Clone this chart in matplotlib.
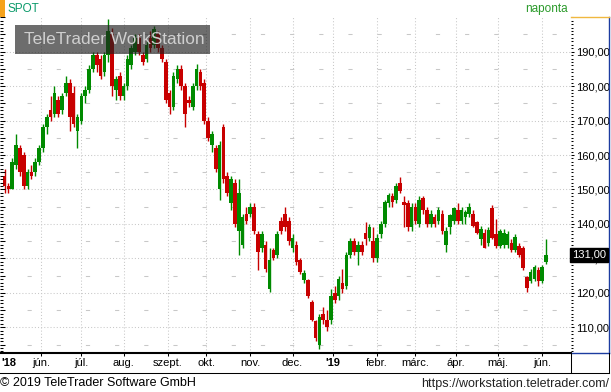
import numpy as np
import pandas as pd
import matplotlib
matplotlib.use("Agg")
import matplotlib.pyplot as plt
from matplotlib.patches import Rectangle
from matplotlib.lines import Line2D
from matplotlib.ticker import FixedLocator, MultipleLocator, FuncFormatter
import matplotlib.transforms as mtransforms

plt.rcParams['font.family'] = ['Liberation Sans', 'DejaVu Sans']

# kereskedesi napok - minden masodik napra egy gyertya
days = pd.bdate_range("2018-05-07", "2019-06-05")

# OHLC, honaponkent
opens = [154, 151, 150, 157, 162, 160, 151, 155, 155,                      # maj
         158, 162, 168, 173, 172, 176, 173, 178, 181, 178, 167,            # jun
         170, 177, 179, 185, 189, 188, 184, 189, 195, 179, 183,            # jul
         177, 180, 186, 190, 194, 189, 188, 194, 192, 195, 191,            # aug
         187, 178, 174, 182, 185, 180, 176, 174, 180, 184,                 # szept
         181, 170, 163, 162, 150, 168, 154, 146, 152, 138, 134, 143,       # okt
         143, 145, 137, 133, 134, 121, 132.5, 131, 141, 143, 141,          # nov
         133, 134, 129.6, 123.8, 123.8, 117.4, 111.7, 105, 114, 112,       # dec
         112, 120, 119, 123, 122, 131, 135, 132, 134, 137.5, 136,          # jan
         135, 130, 137, 140, 146, 148, 147, 152, 146.5, 146,               # febr
         139, 145, 140, 147.5, 144, 140, 142, 141, 143, 134, 139,          # marc
         141, 144, 141, 142, 143, 143, 140.5, 135.5, 137.5, 134.5, 144.7,  # apr
         137, 133.5, 134, 134, 134.5, 132.5, 133.5, 133, 124.7, 123.3,     # maj
         124, 126.7, 123.3, 129]
highs = [156, 152, 159, 166, 163, 161, 156, 157, 159,
         163, 169, 172, 177, 180, 177, 178, 183, 182, 180, 172,
         178, 180, 186, 190, 190, 189, 190, 199.5, 197, 183, 184,
         181, 189, 192, 195, 195, 190, 193, 196, 197.5, 196, 192,
         188, 179, 184, 186, 186, 181, 177, 181, 186.5, 185,
         182, 171, 167, 163, 164, 169, 155, 154, 153, 153, 143, 145,
         146, 146, 138, 138, 135, 133, 133, 138, 142, 145, 142,
         137, 135, 130, 126.5, 124, 118, 112, 114, 116, 115,
         121, 122, 125, 127, 132, 136, 136, 135, 135, 140.6, 140,
         139, 137, 141, 147, 149, 149, 152, 153.7, 148, 147,
         146, 146, 148, 148, 145, 144, 143, 145, 144, 139, 143,
         145, 146, 145, 144, 146, 144, 141, 139.5, 138.5, 139, 145.6,
         141.5, 138.5, 138.5, 138, 135.5, 137, 134.5, 133.5, 125, 127,
         128, 127.5, 128, 135.5]
lows = [149, 149, 150, 156, 154, 150, 150, 153, 154,
        157, 161, 166, 170, 171, 171, 172, 177, 167, 168, 162,
        169, 175, 178, 184, 184, 182, 183, 187, 177, 176, 176,
        176, 179, 185, 189, 189, 186, 187, 190, 191, 190, 187,
        175, 172, 173, 181, 179, 168, 174, 173, 179, 179,
        169, 164, 161, 155, 147, 152, 148, 144, 139, 131, 133, 140,
        142, 137, 126.7, 132, 126, 120.3, 129.5, 130, 137, 138, 134,
        132, 128, 125.5, 123, 118.6, 111.7, 106, 103.6, 111, 109,
        111, 117, 118, 120, 121, 130, 131, 128, 131, 134, 135,
        129, 129, 136, 139, 145, 145, 146, 149, 139, 138,
        138, 140, 139, 143, 139, 139, 139, 140, 137, 132, 137,
        140, 140, 140, 140, 142, 139, 137, 134, 133, 133.5, 135.5,
        133, 133, 133, 133, 132, 132, 130.5, 126.5, 120.3, 123,
        123.5, 122, 123, 128.5]
closes = [151, 150, 158, 163, 155, 151, 155, 154, 158,
          162, 168, 171, 171, 178, 172, 177, 181, 171, 169, 171,
          177, 179, 185, 189, 186, 183, 189, 196, 180, 182, 177,
          180, 188, 191, 194, 190, 187, 192, 191, 196.5, 191, 188,
          176, 174, 183, 185, 180, 172, 175, 180, 185, 180,
          170, 165, 166, 156, 163, 153, 149, 153, 140, 149, 142, 141,
          145, 138, 132, 137, 127, 129.6, 130, 137, 138, 139, 135,
          136, 129, 126, 125.8, 119, 112, 107, 113, 112, 110,
          119, 118, 124, 121, 131, 135, 132, 134, 132, 135.5, 139,
          130, 136, 140, 146.5, 148.5, 146.5, 151, 149.5, 145.5, 139,
          145, 141, 147, 144, 140, 143, 140, 144, 138, 138, 142.5,
          144.5, 141, 144, 143.5, 145, 139.5, 137.5, 138.5, 133, 138.3, 136,
          133.5, 138, 137.5, 137, 132.5, 136.3, 131, 127.3, 121.5, 126,
          127.6, 123.3, 127.6, 131]

month_labels = ["jún.", "júl.", "aug.", "szept.", "okt.", "nov.", "dec.",
                "'19", "febr.", "márc.", "ápr.", "máj.", "jún."]

GREEN = "#008a00"
RED = "#c80000"
GRID = "#c8c8c8"

W, H = 611, 392


def fx(px):
    return px / W


def fy(py):
    return 1 - py / H


o = np.array(opens, float)
h = np.array(highs, float)
l = np.array(lows, float)
c = np.array(closes, float)
x = np.arange(0, len(days), 2)[:len(o)]

fig = plt.figure(figsize=(W / 100, H / 100), dpi=100)
fig.patch.set_facecolor("white")
ax = fig.add_axes([0, fy(353), fx(571), (353 - 17) / H])
ax.set_xlim(-2.35, 295)
ax.set_ylim(102.54, 200.07)

col = np.where(c >= o, GREEN, RED)
ax.vlines(x, l, h, colors=col, lw=1.0, zorder=3)
ax.bar(x, np.maximum(np.abs(c - o), 0.4), bottom=np.minimum(o, c), width=1.9,
       color=col, lw=0, zorder=3)

ax.yaxis.set_major_locator(FixedLocator(np.arange(110, 200, 10)))
ax.yaxis.set_minor_locator(MultipleLocator(1))
ax.yaxis.set_major_formatter(FuncFormatter(lambda v, p: f"{v:.2f}".replace(".", ",")))

for s in ["top", "left", "right"]:
    ax.spines[s].set_visible(False)
ax.spines["bottom"].set_linewidth(1.5)

# bal oldali osztas (ikertengely, az x tengelyt nem bantjuk)
axl = ax.twinx()
axl.set_ylim(ax.get_ylim())
axl.yaxis.tick_left()
axl.yaxis.set_major_locator(MultipleLocator(5))
axl.yaxis.set_minor_locator(MultipleLocator(1))
axl.tick_params(axis="y", which="major", direction="in", length=3.5, width=0.75, labelleft=False)
axl.tick_params(axis="y", which="minor", direction="in", length=2, width=0.75)
for s in axl.spines.values():
    s.set_visible(False)
axl.patch.set_visible(False)

# honapkezdetek
per = days.to_period("M")
month_idx = np.flatnonzero(per[1:] != per[:-1]) + 1
ax.xaxis.set_major_locator(FixedLocator(month_idx))
ax.set_xticklabels(month_labels)
for lbl in ax.get_xticklabels():
    if lbl.get_text().startswith("'"):
        lbl.set_fontweight("bold")
ax.tick_params(axis="x", direction="out", length=2.2, width=0.75, pad=1.5,
               labelsize=8, colors="black", bottom=True, labelbottom=True)

ax.grid(True, which="major", color=GRID, linestyle=(0, (1, 2)), lw=0.75, zorder=1)
for v in np.arange(105, 200, 10):
    ax.axhline(v, color=GRID, lw=0.75, linestyle=(2, (4, 24)), zorder=1)

ax.yaxis.tick_right()
ax.tick_params(axis="y", which="major", direction="out", length=2.5, width=0.75,
               pad=1.5, labelsize=8, labelright=True, labelleft=False)
ax.tick_params(axis="y", which="minor", direction="out", length=1.5, width=0.75)

# jobb oldali panel
pan = fig.add_axes([fx(571), fy(353), fx(38), (353 - 17) / H])
pan.set_facecolor("none")
pan.set_ylim(ax.get_ylim())
pan.set_xticks([])
pan.set_yticks([])
pan.spines["left"].set_visible(False)
pan.spines["top"].set_color("#f0b840")
pan.spines["right"].set_color("#1c3ca0")
pan.spines["bottom"].set_color("#1c3ca0")
for s in pan.spines.values():
    s.set_linewidth(1)
trans = mtransforms.blended_transform_factory(pan.transAxes, pan.transData)
pan.text(0.03, c[-1], f"{c[-1]:.2f}".replace(".", ","), transform=trans, ha="left",
         va="center", color="white", fontsize=8,
         bbox=dict(boxstyle="square,pad=0.2", fc="black", ec="black"), zorder=10)

# also savok
fig.add_artist(Line2D([0, fx(609)], [fy(373), fy(373)], color="black", lw=0.75))
fig.add_artist(Line2D([fx(570.5), fx(570.5)], [fy(353), fy(373)], color="black", lw=0.75))
fig.add_artist(Line2D([fx(609), fx(609)], [fy(353), fy(373)], color="black", lw=0.75))
fig.text(fx(1), fy(363), "'18", fontsize=8, fontweight="bold", va="center", ha="left")

# fejlec
fig.add_artist(Rectangle((0, fy(17)), fx(5), 17 / H, transform=fig.transFigure,
                         fc="#f5a21b", ec="none"))
fig.text(fx(7), fy(9), "SPOT", fontsize=8.5, color="#0a9a6a", va="center")
fig.text(fx(568), fy(9), "naponta", fontsize=8.5, color="#2a9a2a", va="center", ha="right")

# vizjel
fig.add_artist(Rectangle((fx(15), fy(54)), fx(195), 29 / H, transform=fig.transFigure,
                         fc="#1f1f1f", ec="none", alpha=0.65, zorder=5))
fig.text(fx(24), fy(40), "TeleTrader WorkStation", fontsize=12.4, color="#cfcfcf",
         va="center", ha="left", zorder=6)

# lablec
fig.text(fx(0), fy(383), "© 2019 TeleTrader Software GmbH", fontsize=9, va="center", ha="left")
fig.text(fx(609), fy(384), "https://workstation.teletrader.com/", fontsize=9,
         va="center", ha="right", color="#222222")

fig.savefig("out.png", dpi=100)
